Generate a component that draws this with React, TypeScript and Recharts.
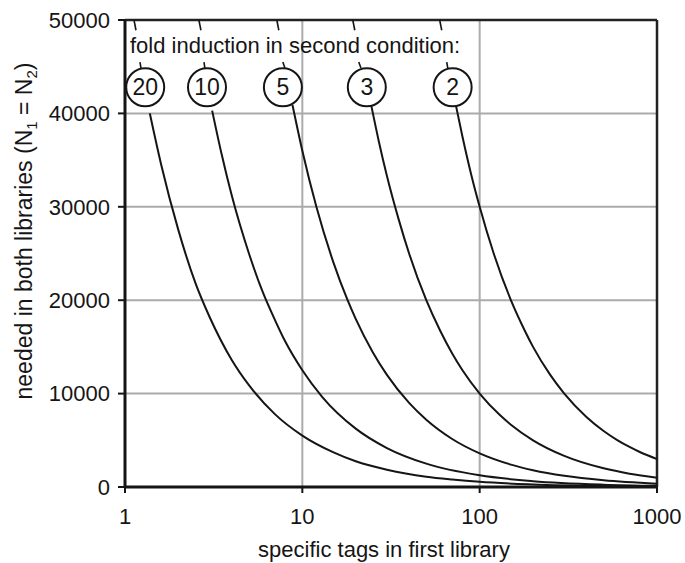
import React from 'react';
import { LineChart, Line, XAxis, YAxis, CartesianGrid, ReferenceLine, ReferenceDot, Label } from 'recharts';

const FONT = '"Liberation Sans", Arial, Helvetica, sans-serif';
const INK = '#151515';

const xTicks = [1, 10, 100, 1000];
const yTicks = [0, 10000, 20000, 30000, 40000, 50000];

const titleText = 'fold induction in second condition:';
const xLabelText = 'specific tags in first library';

// fold-induction curves (x = specific tags, y = tags needed)
const fold20 = [
  { x: 1.38, y: 40000 }, { x: 1.6, y: 34500 }, { x: 2, y: 27500 }, { x: 2.5, y: 21800 },
  { x: 3, y: 18200 }, { x: 4, y: 13600 }, { x: 5, y: 10900 }, { x: 7, y: 7800 },
  { x: 10, y: 5500 }, { x: 15, y: 3700 }, { x: 20, y: 2750 }, { x: 30, y: 1850 },
  { x: 50, y: 1100 }, { x: 70, y: 800 }, { x: 100, y: 550 }, { x: 200, y: 280 },
  { x: 500, y: 110 }, { x: 1000, y: 55 },
];
const fold10 = [
  { x: 3.1, y: 40300 }, { x: 3.5, y: 35700 }, { x: 4, y: 31200 }, { x: 5, y: 25000 },
  { x: 6, y: 20800 }, { x: 7, y: 17900 }, { x: 8, y: 15600 }, { x: 10, y: 12500 },
  { x: 13, y: 9600 }, { x: 20, y: 6250 }, { x: 30, y: 4170 }, { x: 50, y: 2500 },
  { x: 100, y: 1250 }, { x: 200, y: 625 }, { x: 500, y: 250 }, { x: 1000, y: 125 },
];
const fold5 = [
  { x: 8.8, y: 40900 }, { x: 10, y: 36000 }, { x: 12, y: 30000 }, { x: 15, y: 24000 },
  { x: 18, y: 20000 }, { x: 20, y: 18000 }, { x: 25, y: 14400 }, { x: 30, y: 12000 },
  { x: 40, y: 9000 }, { x: 50, y: 7200 }, { x: 70, y: 5140 }, { x: 100, y: 3600 },
  { x: 150, y: 2400 }, { x: 200, y: 1800 }, { x: 300, y: 1200 }, { x: 500, y: 720 },
  { x: 1000, y: 360 },
];
const fold3 = [
  { x: 24.5, y: 40800 }, { x: 27, y: 37000 }, { x: 30, y: 33300 }, { x: 35, y: 28600 },
  { x: 40, y: 25000 }, { x: 50, y: 20000 }, { x: 60, y: 16700 }, { x: 70, y: 14300 },
  { x: 80, y: 12500 }, { x: 100, y: 10000 }, { x: 130, y: 7700 }, { x: 150, y: 6670 },
  { x: 200, y: 5000 }, { x: 300, y: 3330 }, { x: 500, y: 2000 }, { x: 700, y: 1430 },
  { x: 1000, y: 1000 },
];
const fold2 = [
  { x: 73, y: 41100 }, { x: 80, y: 37500 }, { x: 90, y: 33300 }, { x: 100, y: 30000 },
  { x: 120, y: 25000 }, { x: 150, y: 20000 }, { x: 180, y: 16700 }, { x: 200, y: 15000 },
  { x: 250, y: 12000 }, { x: 300, y: 10000 }, { x: 400, y: 7500 }, { x: 500, y: 6000 },
  { x: 600, y: 5000 }, { x: 700, y: 4290 }, { x: 800, y: 3750 }, { x: 1000, y: 3000 },
];

const series = [fold20, fold10, fold5, fold3, fold2];

// circled fold labels
const foldLabels = ['20', '10', '5', '3', '2'];
const circleX = [1.3, 2.9, 7.77, 23.1, 70.4];
const circleY = 42800;

// short leader strokes above the circles (continuations of the curves)
const leaderTopX = [[1.124, 1.153], [2.61, 2.68], [7.18, 7.37], [19.25, 19.76], [59.5, 61.1]];
const leaderMidX = [[1.215, 1.23], [2.79, 2.82], [7.77, 7.97], [20.8, 21.4], [65.2, 66.1]];
const leaderTopY = [50000, 48900];
const leaderMidY = [45500, 44850];

const titleX = 1.053;
const titleY = 47270;

const YLabel = () => (
  <text
    x={32}
    y={231}
    transform="rotate(-90 32 231)"
    textAnchor="middle"
    fontFamily={FONT}
    fontSize={23}
    fill={INK}
  >
    <tspan>needed in both libraries (N</tspan>
    <tspan fontSize={15} dy={5}>1</tspan>
    <tspan dy={-5}> = N</tspan>
    <tspan fontSize={15} dy={5}>2</tspan>
    <tspan dy={-5}>)</tspan>
  </text>
);

export default function App() {
  return (
    <div style={{ position: 'absolute', left: 0, top: 0, width: 685, height: 563, background: '#fff' }}>
      <LineChart width={685} height={563} margin={{ top: 20, right: 28, left: 0, bottom: 0 }}>
        <CartesianGrid stroke="#ababab" strokeWidth={2} />
        <XAxis
          dataKey="x"
          type="number"
          scale="log"
          domain={[1, 1000]}
          ticks={xTicks}
          interval={0}
          allowDataOverflow
          height={76}
          tickSize={6}
          tickMargin={15}
          axisLine={{ stroke: INK, strokeWidth: 3 }}
          tickLine={{ stroke: INK, strokeWidth: 2 }}
          tick={{ fontSize: 22, fill: INK, fontFamily: FONT }}
        >
          <Label
            value={xLabelText}
            position="insideBottom"
            offset={6}
            dx={-7}
            style={{ fontSize: 22, fill: INK, fontFamily: FONT }}
          />
        </XAxis>
        <YAxis
          type="number"
          domain={[0, 50000]}
          ticks={yTicks}
          interval={0}
          width={125}
          tickSize={7}
          tickMargin={8}
          axisLine={{ stroke: INK, strokeWidth: 3 }}
          tickLine={{ stroke: INK, strokeWidth: 2 }}
          tick={{ fontSize: 22, fill: INK, fontFamily: FONT }}
        >
          <Label content={<YLabel />} />
        </YAxis>
        <ReferenceLine y={50000} stroke="#222" strokeWidth={2.5} />
        <ReferenceLine x={1000} stroke="#222" strokeWidth={2.5} />
        {series.map((d, i) => (
          <Line
            key={i}
            data={d}
            dataKey="y"
            type="monotone"
            stroke={INK}
            strokeWidth={2}
            dot={false}
            activeDot={false}
            isAnimationActive={false}
          />
        ))}
        {leaderTopX.map((xs, i) => (
          <ReferenceLine
            key={'t' + i}
            segment={[{ x: xs[0], y: leaderTopY[0] }, { x: xs[1], y: leaderTopY[1] }]}
            stroke={INK}
            strokeWidth={1.6}
          />
        ))}
        {leaderMidX.map((xs, i) => (
          <ReferenceLine
            key={'m' + i}
            segment={[{ x: xs[0], y: leaderMidY[0] }, { x: xs[1], y: leaderMidY[1] }]}
            stroke={INK}
            strokeWidth={1.6}
          />
        ))}
        <ReferenceDot
          x={titleX}
          y={titleY}
          r={1}
          fill="none"
          stroke="none"
          label={{ value: titleText, position: 'right', offset: 0, fontSize: 22, fill: INK, fontFamily: FONT }}
        />
        {foldLabels.map((lab, i) => (
          <ReferenceDot
            key={'c' + i}
            x={circleX[i]}
            y={circleY}
            r={19}
            fill="#fff"
            stroke={INK}
            strokeWidth={2}
            label={{ value: lab, position: 'center', fontSize: 23, fill: INK, fontFamily: FONT }}
          />
        ))}
      </LineChart>
    </div>
  );
}
